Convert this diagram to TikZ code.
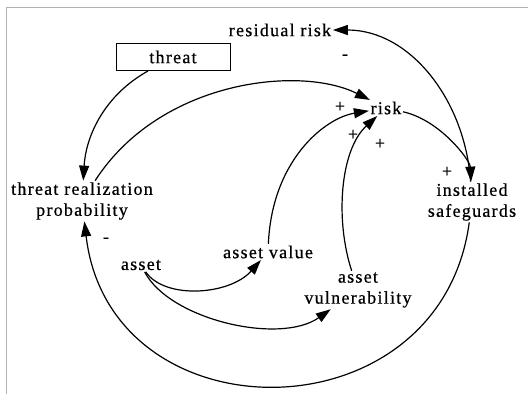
\documentclass[tikz,border=0pt]{standalone}
\usepackage{fontspec}
\setmainfont[LetterSpace=7,FakeBold=0.6]{Liberation Serif}
\usetikzlibrary{arrows.meta}
\begin{document}
\begin{tikzpicture}[x=1pt,y=-1pt,
  lbl/.style={font=\fontsize{18}{21}\selectfont, inner sep=1.5pt, align=center},
  boxed/.style={lbl, draw, line width=1pt, minimum width=114pt, minimum height=27pt},
  conn/.style={-{Triangle[length=15pt,width=10pt]}, line width=1.2pt},
  sign/.style={font=\fontsize{18}{18}\selectfont, inner sep=0pt}]
\useasboundingbox (0,0) rectangle (528,394);
\draw[gray!60, line width=0.8pt] (6,394) -- (6,7) -- (528,7);

\node[lbl] (residual) at (280,30) {residual risk};
\node[boxed] (threat) at (173,57) {threat};
\node[lbl] (risk) at (386,108) {risk};
\node[lbl] (trp) at (82,201) {threat realization\\probability};
\node[lbl] (safe) at (472,202) {installed\\safeguards};
\node[lbl] (value) at (268,252) {asset value};
\node[lbl] (asset) at (141,265) {asset};
\node[lbl] (vuln) at (358,290) {asset\\vulnerability};

\draw[conn] (threat) .. controls (105,95) and (86,135) .. (trp);
\draw[conn] (trp) .. controls (160,80) and (300,65) .. (risk);
\draw[conn] (value) .. controls (272,160) and (325,118) .. (risk);
\draw[conn] (vuln) .. controls (335,220) and (340,150) .. (risk);
\draw[conn] (risk) .. controls (440,120) and (470,160) .. (safe);
\draw[conn] (safe) .. controls (465,100) and (410,30) .. (residual);
\draw[conn] (asset) .. controls (165,300) and (230,295) .. (value);
\draw[conn] (asset) .. controls (170,320) and (280,345) .. (vuln);
\draw[conn] (safe) .. controls (440,440) and (110,440) .. (trp);

\node[sign] (s1) at (345,57) {-};
\node[sign] (s2) at (340,107) {+};
\node[sign] (s3) at (353,135) {+};
\node[sign] (s4) at (380,144) {+};
\node[sign] (s5) at (447,172) {+};
\node[sign] (s6) at (106,240) {-};
\end{tikzpicture}
\end{document}
